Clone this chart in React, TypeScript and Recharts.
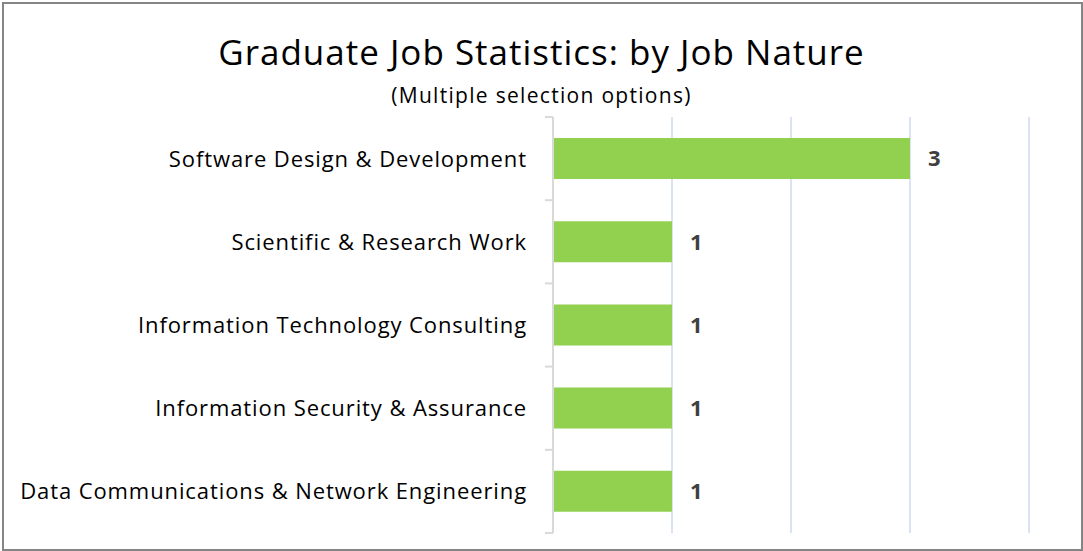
import React from 'react';
import { BarChart, Bar, XAxis, YAxis, CartesianGrid, LabelList } from 'recharts';

// Job nature categories, top to bottom
const jobNatures = [
  'Software Design & Development',
  'Scientific & Research Work',
  'Information Technology Consulting',
  'Information Security & Assurance',
  'Data Communications & Network Engineering',
];
const graduateCounts = [3, 1, 1, 1, 1];
const xTicks = [0, 1, 2, 3, 4];

const FONT = '"Open Sans", sans-serif';
const AXIS_GREY = '#d9d9d9';
const TICK_SIZE = 8;
const TICK_MARGIN = 18;

// category label plus the small tick marks that sit on the band edges
function CategoryTick(props: any) {
  const { x, y, payload, index, visibleTicksCount } = props;
  const half = payload && payload.offset ? payload.offset : 41.6;
  const axisX = x + TICK_SIZE + TICK_MARGIN;
  const count = visibleTicksCount || jobNatures.length;
  return (
    <g>
      <line x1={axisX - TICK_SIZE} x2={axisX} y1={y - half} y2={y - half} stroke={AXIS_GREY} strokeWidth={2} />
      {index === count - 1 && (
        <line x1={axisX - TICK_SIZE} x2={axisX} y1={y + half} y2={y + half} stroke={AXIS_GREY} strokeWidth={2} />
      )}
      <text
        x={x}
        y={y}
        dy="0.36em"
        textAnchor="end"
        fill="#000"
        fontSize={22}
        letterSpacing={0.9}
        fontFamily={FONT}
      >
        {payload.value}
      </text>
    </g>
  );
}

export default function App() {
  const data = jobNatures.map((name, i) => ({ name, count: graduateCounts[i] }));

  return (
    <div
      style={{
        position: 'absolute',
        left: 0,
        top: 0,
        width: 1083,
        height: 551,
        background: 'white',
        fontFamily: FONT,
      }}
    >
      <div
        style={{
          position: 'absolute',
          left: 2,
          top: 2,
          width: 1077,
          height: 545,
          border: '2px solid #858585',
        }}
      />
      <div
        style={{
          position: 'absolute',
          left: 0,
          width: 1083,
          top: 28,
          textAlign: 'center',
          fontSize: 35,
          letterSpacing: 1,
          color: '#000',
        }}
      >
        Graduate Job Statistics: by Job Nature
      </div>
      <div
        style={{
          position: 'absolute',
          left: 0,
          width: 1083,
          top: 81,
          textAlign: 'center',
          fontSize: 21,
          letterSpacing: 1.3,
          color: '#000',
        }}
      >
        (Multiple selection options)
      </div>
      <div style={{ position: 'absolute', left: 0, top: 0 }}>
        <BarChart
          width={1083}
          height={551}
          data={data}
          layout="vertical"
          margin={{ top: 117, right: 54, bottom: 18, left: 0 }}
          barSize={41}
        >
          <CartesianGrid horizontal={false} stroke="#dae3f3" strokeWidth={2} />
          <XAxis type="number" domain={[0, 4]} ticks={xTicks} hide />
          <YAxis
            type="category"
            dataKey="name"
            width={553}
            axisLine={{ stroke: AXIS_GREY, strokeWidth: 2 }}
            tickLine={false}
            tickSize={TICK_SIZE}
            tickMargin={TICK_MARGIN}
            tick={<CategoryTick />}
          />
          <Bar dataKey="count" fill="#92d050" isAnimationActive={false}>
            <LabelList
              dataKey="count"
              position="right"
              offset={18}
              fill="#404040"
              fontSize={22}
              fontWeight="bold"
              fontFamily={FONT}
            />
          </Bar>
        </BarChart>
      </div>
    </div>
  );
}
